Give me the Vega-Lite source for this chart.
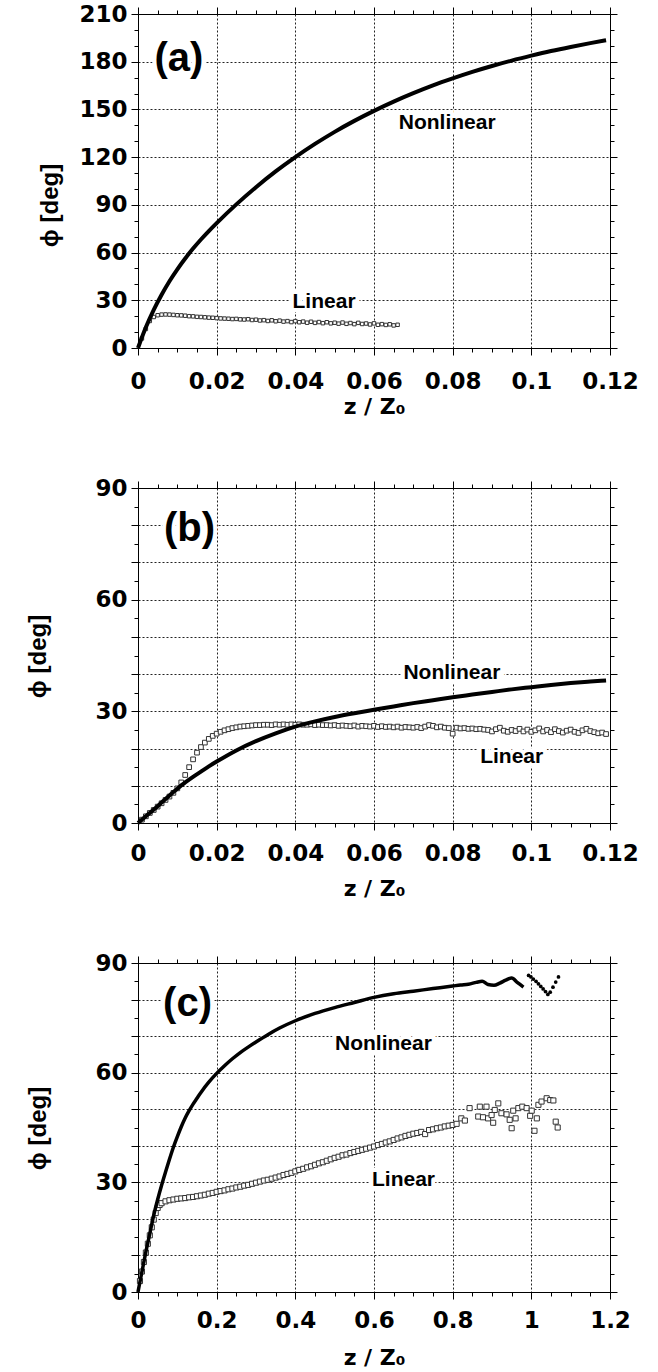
{
"$schema":"https://vega.github.io/schema/vega-lite/v6.json",
"padding":{"left":26,"top":3,"right":5,"bottom":5},
"spacing":140,
"bounds":"flush",
"config":{"font":"Liberation Sans","view":{"stroke":null},
 "axis":{"domainColor":"#000","domainWidth":1,"tickColor":"#000","tickWidth":1,"labelFont":"DejaVu Sans","labelFontSize":23,"labelFontWeight":"bold","labelColor":"#000","labelFlush":false,"labelOverlap":false,"titleFont":"Liberation Sans","titleFontSize":24,"titleFontWeight":"bold","titleColor":"#000","gridColor":"#222","gridDash":[2,2],"gridWidth":1}},
"datasets":{
"aN":[{"z":0,"phi":0},{"z":0.002,"phi":13},{"z":0.004,"phi":24},{"z":0.006,"phi":33.5},{"z":0.008,"phi":42},{"z":0.01,"phi":49.5},{"z":0.012,"phi":56.3},{"z":0.014,"phi":62.5},{"z":0.016,"phi":68.2},{"z":0.018,"phi":73.5},{"z":0.02,"phi":78.5},{"z":0.025,"phi":90.3},{"z":0.03,"phi":101.1},{"z":0.035,"phi":111},{"z":0.04,"phi":120},{"z":0.045,"phi":128.3},{"z":0.05,"phi":135.9},{"z":0.055,"phi":142.8},{"z":0.06,"phi":149.1},{"z":0.065,"phi":154.9},{"z":0.07,"phi":160.2},{"z":0.075,"phi":165.1},{"z":0.08,"phi":169.5},{"z":0.085,"phi":173.6},{"z":0.09,"phi":177.3},{"z":0.095,"phi":180.7},{"z":0.1,"phi":183.8},{"z":0.105,"phi":186.7},{"z":0.11,"phi":189.3},{"z":0.115,"phi":191.7},{"z":0.119,"phi":193.5}],
"aL":[{"z":0.001,"phi":6},{"z":0.002,"phi":12},{"z":0.003,"phi":17},{"z":0.004,"phi":19.5},{"z":0.005,"phi":20.6},{"z":0.006,"phi":21},{"z":0.007,"phi":21.1},{"z":0.008,"phi":21},{"z":0.009,"phi":20.8},{"z":0.01,"phi":20.6},{"z":0.011,"phi":20.5},{"z":0.012,"phi":20.3},{"z":0.013,"phi":20},{"z":0.014,"phi":19.9},{"z":0.015,"phi":19.6},{"z":0.016,"phi":19.5},{"z":0.017,"phi":19.3},{"z":0.018,"phi":19.1},{"z":0.019,"phi":19},{"z":0.02,"phi":18.8},{"z":0.021,"phi":18.6},{"z":0.022,"phi":18.5},{"z":0.023,"phi":18.4},{"z":0.024,"phi":18.2},{"z":0.025,"phi":18.3},{"z":0.026,"phi":18},{"z":0.027,"phi":17.9},{"z":0.028,"phi":18.1},{"z":0.029,"phi":17.6},{"z":0.03,"phi":17.8},{"z":0.031,"phi":17.3},{"z":0.032,"phi":17.5},{"z":0.033,"phi":17},{"z":0.034,"phi":17.4},{"z":0.035,"phi":16.8},{"z":0.036,"phi":17.2},{"z":0.037,"phi":16.6},{"z":0.038,"phi":16.9},{"z":0.039,"phi":16.3},{"z":0.04,"phi":16.9},{"z":0.041,"phi":16.2},{"z":0.042,"phi":16.6},{"z":0.043,"phi":15.9},{"z":0.044,"phi":16.5},{"z":0.045,"phi":15.8},{"z":0.046,"phi":16.3},{"z":0.047,"phi":15.6},{"z":0.048,"phi":16.2},{"z":0.049,"phi":15.5},{"z":0.05,"phi":15.9},{"z":0.051,"phi":15.3},{"z":0.052,"phi":16},{"z":0.053,"phi":15.2},{"z":0.054,"phi":15.7},{"z":0.055,"phi":15},{"z":0.056,"phi":15.8},{"z":0.057,"phi":15.1},{"z":0.058,"phi":15.4},{"z":0.059,"phi":14.8},{"z":0.06,"phi":15.5},{"z":0.061,"phi":14.6},{"z":0.062,"phi":15},{"z":0.063,"phi":14.5},{"z":0.064,"phi":14.9},{"z":0.065,"phi":14.2},{"z":0.066,"phi":14.6}],
"aT":[{"z":0.0104,"phi":181.7,"t":"(a)"},{"z":0.0786,"phi":141.5,"t":"Nonlinear"},{"z":0.0473,"phi":29.1,"t":"Linear"}],
"bN":[{"z":0,"phi":0},{"z":0.002,"phi":1.8},{"z":0.004,"phi":3.6},{"z":0.006,"phi":5.5},{"z":0.008,"phi":7.4},{"z":0.01,"phi":9.2},{"z":0.012,"phi":10.9},{"z":0.014,"phi":12.4},{"z":0.016,"phi":13.8},{"z":0.018,"phi":15.2},{"z":0.02,"phi":16.5},{"z":0.025,"phi":19.5},{"z":0.03,"phi":22},{"z":0.035,"phi":24.1},{"z":0.04,"phi":25.9},{"z":0.045,"phi":27.3},{"z":0.05,"phi":28.5},{"z":0.055,"phi":29.5},{"z":0.06,"phi":30.4},{"z":0.065,"phi":31.3},{"z":0.07,"phi":32.2},{"z":0.075,"phi":33},{"z":0.08,"phi":33.8},{"z":0.085,"phi":34.5},{"z":0.09,"phi":35.2},{"z":0.095,"phi":35.9},{"z":0.1,"phi":36.5},{"z":0.105,"phi":37.1},{"z":0.11,"phi":37.6},{"z":0.115,"phi":38},{"z":0.119,"phi":38.3}],
"bL":[{"z":0.001,"phi":0.9},{"z":0.002,"phi":1.8},{"z":0.003,"phi":2.7},{"z":0.004,"phi":3.5},{"z":0.005,"phi":4.4},{"z":0.006,"phi":5.3},{"z":0.007,"phi":6.2},{"z":0.008,"phi":7.1},{"z":0.009,"phi":8.1},{"z":0.01,"phi":9.3},{"z":0.011,"phi":10.9},{"z":0.012,"phi":12.9},{"z":0.013,"phi":15},{"z":0.014,"phi":17.1},{"z":0.015,"phi":18.9},{"z":0.016,"phi":20.4},{"z":0.017,"phi":21.6},{"z":0.018,"phi":22.6},{"z":0.019,"phi":23.4},{"z":0.02,"phi":24},{"z":0.021,"phi":24.5},{"z":0.022,"phi":24.9},{"z":0.023,"phi":25.2},{"z":0.024,"phi":25.5},{"z":0.025,"phi":25.7},{"z":0.026,"phi":25.9},{"z":0.027,"phi":26},{"z":0.028,"phi":26.1},{"z":0.029,"phi":26.2},{"z":0.03,"phi":26.3},{"z":0.031,"phi":26.3},{"z":0.032,"phi":26.4},{"z":0.033,"phi":26.4},{"z":0.034,"phi":26.3},{"z":0.035,"phi":26.5},{"z":0.036,"phi":26.4},{"z":0.037,"phi":26.5},{"z":0.038,"phi":26.4},{"z":0.039,"phi":26.5},{"z":0.04,"phi":26.4},{"z":0.041,"phi":26.5},{"z":0.042,"phi":26.4},{"z":0.043,"phi":26.4},{"z":0.044,"phi":26.5},{"z":0.045,"phi":26.3},{"z":0.046,"phi":26.4},{"z":0.047,"phi":26.3},{"z":0.048,"phi":26.3},{"z":0.049,"phi":26.2},{"z":0.05,"phi":26.3},{"z":0.051,"phi":26.1},{"z":0.052,"phi":26.2},{"z":0.053,"phi":26.1},{"z":0.054,"phi":26},{"z":0.055,"phi":26.2},{"z":0.056,"phi":25.9},{"z":0.057,"phi":26.1},{"z":0.058,"phi":26},{"z":0.059,"phi":25.9},{"z":0.06,"phi":26.1},{"z":0.061,"phi":25.8},{"z":0.062,"phi":26},{"z":0.063,"phi":25.8},{"z":0.064,"phi":25.9},{"z":0.065,"phi":25.7},{"z":0.066,"phi":25.9},{"z":0.067,"phi":25.6},{"z":0.068,"phi":25.8},{"z":0.069,"phi":25.7},{"z":0.07,"phi":25.6},{"z":0.071,"phi":25.8},{"z":0.072,"phi":25.5},{"z":0.073,"phi":25.9},{"z":0.074,"phi":26.3},{"z":0.075,"phi":26.1},{"z":0.076,"phi":25.7},{"z":0.077,"phi":25.9},{"z":0.078,"phi":25.6},{"z":0.079,"phi":25.5},{"z":0.08,"phi":24},{"z":0.081,"phi":25.6},{"z":0.082,"phi":25.4},{"z":0.083,"phi":25.5},{"z":0.084,"phi":25.3},{"z":0.085,"phi":25.4},{"z":0.086,"phi":25.2},{"z":0.087,"phi":25.3},{"z":0.088,"phi":25.1},{"z":0.089,"phi":25},{"z":0.09,"phi":24.6},{"z":0.091,"phi":25.2},{"z":0.092,"phi":25.6},{"z":0.093,"phi":24.8},{"z":0.094,"phi":24.5},{"z":0.095,"phi":25},{"z":0.096,"phi":24.7},{"z":0.097,"phi":25.3},{"z":0.098,"phi":24.6},{"z":0.099,"phi":25.1},{"z":0.1,"phi":24.5},{"z":0.101,"phi":24.9},{"z":0.102,"phi":25.4},{"z":0.103,"phi":24.6},{"z":0.104,"phi":25},{"z":0.105,"phi":24.4},{"z":0.106,"phi":25.2},{"z":0.107,"phi":24.7},{"z":0.108,"phi":24.3},{"z":0.109,"phi":24.8},{"z":0.11,"phi":25.1},{"z":0.111,"phi":24.5},{"z":0.112,"phi":24.2},{"z":0.113,"phi":24.9},{"z":0.114,"phi":25.3},{"z":0.115,"phi":24.7},{"z":0.116,"phi":24.4},{"z":0.117,"phi":24.1},{"z":0.118,"phi":24.3},{"z":0.119,"phi":23.9}],
"bT":[{"z":0.0131,"phi":79,"t":"(b)"},{"z":0.0798,"phi":40.4,"t":"Nonlinear"},{"z":0.095,"phi":17.6,"t":"Linear"}],
"cN":[{"z":0,"phi":0},{"z":0.005,"phi":2.8},{"z":0.01,"phi":5.5},{"z":0.02,"phi":11},{"z":0.03,"phi":16},{"z":0.04,"phi":21},{"z":0.05,"phi":25.3},{"z":0.06,"phi":29.2},{"z":0.07,"phi":32.8},{"z":0.08,"phi":36.3},{"z":0.09,"phi":39.6},{"z":0.1,"phi":42.5},{"z":0.11,"phi":45.2},{"z":0.12,"phi":47.6},{"z":0.13,"phi":49.6},{"z":0.14,"phi":51.4},{"z":0.15,"phi":53},{"z":0.16,"phi":54.6},{"z":0.18,"phi":57.4},{"z":0.2,"phi":59.8},{"z":0.22,"phi":61.9},{"z":0.24,"phi":63.8},{"z":0.26,"phi":65.5},{"z":0.28,"phi":67},{"z":0.3,"phi":68.4},{"z":0.33,"phi":70.4},{"z":0.36,"phi":72.2},{"z":0.4,"phi":74.2},{"z":0.45,"phi":76.2},{"z":0.5,"phi":77.8},{"z":0.55,"phi":79.2},{"z":0.6,"phi":80.6},{"z":0.65,"phi":81.6},{"z":0.7,"phi":82.3},{"z":0.75,"phi":83},{"z":0.8,"phi":83.7},{"z":0.82,"phi":84},{"z":0.84,"phi":84.2},{"z":0.86,"phi":84.7},{"z":0.875,"phi":85},{"z":0.89,"phi":84.1},{"z":0.905,"phi":83.9},{"z":0.92,"phi":84.5},{"z":0.935,"phi":85.3},{"z":0.95,"phi":85.9},{"z":0.965,"phi":84.6},{"z":0.98,"phi":83.4}],
"cD":[{"z":0.993,"phi":86.6},{"z":0.999,"phi":86.2},{"z":1.005,"phi":85.6},{"z":1.012,"phi":85},{"z":1.018,"phi":84.3},{"z":1.024,"phi":83.6},{"z":1.03,"phi":82.9},{"z":1.036,"phi":82.2},{"z":1.042,"phi":81.4},{"z":1.048,"phi":82},{"z":1.055,"phi":83.4},{"z":1.062,"phi":84.8},{"z":1.069,"phi":86.2}],
"cL":[{"z":0.005,"phi":3},{"z":0.01,"phi":5.6},{"z":0.015,"phi":8.2},{"z":0.02,"phi":10.8},{"z":0.025,"phi":13.2},{"z":0.03,"phi":15.5},{"z":0.035,"phi":17.7},{"z":0.04,"phi":19.8},{"z":0.045,"phi":21.6},{"z":0.05,"phi":23},{"z":0.055,"phi":23.8},{"z":0.06,"phi":24.3},{"z":0.07,"phi":24.8},{"z":0.08,"phi":25.1},{"z":0.09,"phi":25.3},{"z":0.1,"phi":25.5},{"z":0.11,"phi":25.6},{"z":0.12,"phi":25.7},{"z":0.13,"phi":25.9},{"z":0.14,"phi":26},{"z":0.15,"phi":26.2},{"z":0.16,"phi":26.4},{"z":0.17,"phi":26.6},{"z":0.18,"phi":26.9},{"z":0.19,"phi":27.1},{"z":0.2,"phi":27.4},{"z":0.21,"phi":27.6},{"z":0.22,"phi":27.8},{"z":0.23,"phi":28.1},{"z":0.24,"phi":28.3},{"z":0.25,"phi":28.6},{"z":0.26,"phi":28.8},{"z":0.27,"phi":29.1},{"z":0.28,"phi":29.3},{"z":0.29,"phi":29.6},{"z":0.3,"phi":29.9},{"z":0.31,"phi":30.2},{"z":0.32,"phi":30.5},{"z":0.33,"phi":30.7},{"z":0.34,"phi":31},{"z":0.35,"phi":31.3},{"z":0.36,"phi":31.6},{"z":0.37,"phi":32},{"z":0.38,"phi":32.3},{"z":0.39,"phi":32.6},{"z":0.4,"phi":33},{"z":0.41,"phi":33.4},{"z":0.42,"phi":33.7},{"z":0.43,"phi":34.1},{"z":0.44,"phi":34.4},{"z":0.45,"phi":34.8},{"z":0.46,"phi":35.2},{"z":0.47,"phi":35.5},{"z":0.48,"phi":35.9},{"z":0.49,"phi":36.3},{"z":0.5,"phi":36.7},{"z":0.51,"phi":37},{"z":0.52,"phi":37.4},{"z":0.53,"phi":37.6},{"z":0.54,"phi":38},{"z":0.55,"phi":38.3},{"z":0.56,"phi":38.6},{"z":0.57,"phi":38.9},{"z":0.58,"phi":39.2},{"z":0.59,"phi":39.5},{"z":0.6,"phi":39.8},{"z":0.61,"phi":40.2},{"z":0.62,"phi":40.5},{"z":0.63,"phi":40.9},{"z":0.64,"phi":41.2},{"z":0.65,"phi":41.6},{"z":0.66,"phi":42},{"z":0.67,"phi":42.3},{"z":0.68,"phi":42.7},{"z":0.69,"phi":43},{"z":0.7,"phi":43.3},{"z":0.71,"phi":43.5},{"z":0.72,"phi":43.8},{"z":0.73,"phi":43.2},{"z":0.74,"phi":44.3},{"z":0.75,"phi":44.5},{"z":0.76,"phi":44.8},{"z":0.77,"phi":45},{"z":0.78,"phi":45.3},{"z":0.79,"phi":45.5},{"z":0.8,"phi":45.7},{"z":0.81,"phi":46},{"z":0.822,"phi":47.5},{"z":0.831,"phi":46.9},{"z":0.843,"phi":50.3},{"z":0.865,"phi":48},{"z":0.869,"phi":50.7},{"z":0.877,"phi":47.8},{"z":0.886,"phi":50.7},{"z":0.89,"phi":47.5},{"z":0.899,"phi":48.4},{"z":0.903,"phi":46.3},{"z":0.907,"phi":49.8},{"z":0.916,"phi":51.6},{"z":0.924,"phi":48.9},{"z":0.937,"phi":48.6},{"z":0.945,"phi":47.1},{"z":0.95,"phi":44.8},{"z":0.954,"phi":49.6},{"z":0.96,"phi":47.5},{"z":0.967,"phi":50.3},{"z":0.977,"phi":50.7},{"z":0.988,"phi":50.3},{"z":0.997,"phi":48.2},{"z":1.001,"phi":49.6},{"z":1.008,"phi":44.1},{"z":1.014,"phi":47.5},{"z":1.018,"phi":51.2},{"z":1.026,"phi":52.1},{"z":1.039,"phi":53},{"z":1.048,"phi":52.5},{"z":1.056,"phi":52.4},{"z":1.062,"phi":46.6},{"z":1.067,"phi":45}],
"cT":[{"z":0.126,"phi":78.8,"t":"(c)"},{"z":0.624,"phi":67.9,"t":"Nonlinear"},{"z":0.675,"phi":30.6,"t":"Linear"}]
},
"vconcat":[
{"width":472,"height":334,
 "resolve":{"axis":{"x":"independent","y":"independent"}},
 "layer":[
  {"data":{"name":"aL"},"mark":{"type":"point","shape":"square","fill":"white","stroke":"#333","strokeWidth":1,"size":12,"opacity":1},
   "encoding":{
    "x":{"field":"z","type":"quantitative","scale":{"domain":[0,0.12],"nice":false},
      "axis":{"orient":"bottom","values":[0,0.005,0.01,0.015,0.02,0.025,0.03,0.035,0.04,0.045,0.05,0.055,0.06,0.065,0.07,0.075,0.08,0.085,0.09,0.095,0.1,0.105,0.11,0.115,0.12],
       "labelExpr":"round(datum.value*1000)%20==0 ? format(datum.value,'~g') : ''",
       "tickSize":{"condition":{"test":"round(datum.value*1000)%20==0","value":7},"value":4},
       "gridOpacity":{"condition":{"test":"round(datum.value*1000)%20==0","value":1},"value":0},
       "grid":true,"labelPadding":15,"title":"z / Z₀","titleFont":"DejaVu Sans","titleFontSize":22,"titleY":65,"titleBaseline":"alphabetic"}},
    "y":{"field":"phi","type":"quantitative","scale":{"domain":[0,210],"nice":false},
      "axis":{"orient":"left","values":[0,10,20,30,40,50,60,70,80,90,100,110,120,130,140,150,160,170,180,190,200,210],
       "labelExpr":"datum.value%30==0 ? format(datum.value,'d') : ''",
       "tickSize":{"condition":{"test":"datum.value%30==0","value":7},"value":4},
       "gridOpacity":{"condition":{"test":"datum.value%30==0","value":1},"value":0},
       "grid":true,"labelPadding":4,"title":"ϕ [deg]","titleX":-88,"titleY":191,"titleAlign":"center","titleBaseline":"middle","titleAngle":270}}}},
  {"data":{"name":"aN"},"mark":{"type":"line","color":"black","strokeWidth":4,"interpolate":"monotone"},
   "encoding":{
    "x":{"field":"z","type":"quantitative","axis":{"orient":"top","values":[0,0.005,0.01,0.015,0.02,0.025,0.03,0.035,0.04,0.045,0.05,0.055,0.06,0.065,0.07,0.075,0.08,0.085,0.09,0.095,0.1,0.105,0.11,0.115,0.12],"labels":false,"grid":false,"title":null,
       "tickSize":{"condition":{"test":"round(datum.value*1000)%20==0","value":7},"value":4}}},
    "y":{"field":"phi","type":"quantitative","axis":{"orient":"right","values":[0,10,20,30,40,50,60,70,80,90,100,110,120,130,140,150,160,170,180,190,200,210],"labels":false,"grid":false,"title":null,
       "tickSize":{"condition":{"test":"datum.value%30==0","value":7},"value":4}}}}},
  {"data":{"name":"aT"},"mark":{"type":"text","font":"Liberation Sans","fontWeight":"bold","align":"center","baseline":"middle","stroke":"white","strokeWidth":8,"fill":"white"},
   "encoding":{"x":{"field":"z","type":"quantitative","axis":null},"y":{"field":"phi","type":"quantitative","axis":null},"text":{"field":"t"},
    "size":{"condition":{"test":"indexof(datum.t,'(')==0","value":40},"value":21}}},
  {"data":{"name":"aT"},"mark":{"type":"text","font":"Liberation Sans","fontWeight":"bold","align":"center","baseline":"middle","fill":"black"},
   "encoding":{"x":{"field":"z","type":"quantitative","axis":null},"y":{"field":"phi","type":"quantitative","axis":null},"text":{"field":"t"},
    "size":{"condition":{"test":"indexof(datum.t,'(')==0","value":40},"value":21}}}
 ]},
{"width":472,"height":335,
 "resolve":{"axis":{"x":"independent","y":"independent"}},
 "layer":[
  {"data":{"name":"bL"},"mark":{"type":"point","shape":"square","fill":"white","stroke":"#333","strokeWidth":1,"size":22,"opacity":1},
   "encoding":{
    "x":{"field":"z","type":"quantitative","scale":{"domain":[0,0.12],"nice":false},
      "axis":{"orient":"bottom","values":[0,0.005,0.01,0.015,0.02,0.025,0.03,0.035,0.04,0.045,0.05,0.055,0.06,0.065,0.07,0.075,0.08,0.085,0.09,0.095,0.1,0.105,0.11,0.115,0.12],
       "labelExpr":"round(datum.value*1000)%20==0 ? format(datum.value,'~g') : ''",
       "tickSize":{"condition":{"test":"round(datum.value*1000)%20==0","value":7},"value":4},
       "gridOpacity":{"condition":{"test":"round(datum.value*1000)%20==0","value":1},"value":0},
       "grid":true,"labelPadding":12,"title":"z / Z₀","titleFont":"DejaVu Sans","titleFontSize":22,"titleY":72,"titleBaseline":"alphabetic"}},
    "y":{"field":"phi","type":"quantitative","scale":{"domain":[0,90],"nice":false},
      "axis":{"orient":"left","values":[0,5,10,15,20,25,30,35,40,45,50,55,60,65,70,75,80,85,90],
       "labelExpr":"datum.value%30==0 ? format(datum.value,'d') : ''",
       "tickSize":{"condition":{"test":"datum.value%10==0","value":7},"value":4},
       "gridOpacity":{"condition":{"test":"datum.value%10==0","value":1},"value":0},
       "grid":true,"labelPadding":4,"title":"ϕ [deg]","titleX":-100,"titleY":168,"titleAlign":"center","titleBaseline":"middle","titleAngle":270}}}},
  {"data":{"name":"bN"},"mark":{"type":"line","color":"black","strokeWidth":4,"interpolate":"monotone"},
   "encoding":{
    "x":{"field":"z","type":"quantitative","axis":{"orient":"top","values":[0,0.005,0.01,0.015,0.02,0.025,0.03,0.035,0.04,0.045,0.05,0.055,0.06,0.065,0.07,0.075,0.08,0.085,0.09,0.095,0.1,0.105,0.11,0.115,0.12],"labels":false,"grid":false,"title":null,
       "tickSize":{"condition":{"test":"round(datum.value*1000)%20==0","value":7},"value":4}}},
    "y":{"field":"phi","type":"quantitative","axis":{"orient":"right","values":[0,5,10,15,20,25,30,35,40,45,50,55,60,65,70,75,80,85,90],"labels":false,"grid":false,"title":null,
       "tickSize":{"condition":{"test":"datum.value%10==0","value":7},"value":4}}}}},
  {"data":{"name":"bT"},"mark":{"type":"text","font":"Liberation Sans","fontWeight":"bold","align":"center","baseline":"middle","stroke":"white","strokeWidth":8,"fill":"white"},
   "encoding":{"x":{"field":"z","type":"quantitative","axis":null},"y":{"field":"phi","type":"quantitative","axis":null},"text":{"field":"t"},
    "size":{"condition":{"test":"indexof(datum.t,'(')==0","value":40},"value":21}}},
  {"data":{"name":"bT"},"mark":{"type":"text","font":"Liberation Sans","fontWeight":"bold","align":"center","baseline":"middle","fill":"black"},
   "encoding":{"x":{"field":"z","type":"quantitative","axis":null},"y":{"field":"phi","type":"quantitative","axis":null},"text":{"field":"t"},
    "size":{"condition":{"test":"indexof(datum.t,'(')==0","value":40},"value":21}}}
 ]},
{"width":472,"height":329,
 "resolve":{"axis":{"x":"independent","y":"independent"}},
 "layer":[
  {"data":{"name":"cL"},"mark":{"type":"point","shape":"square","fill":"white","stroke":"#333","strokeWidth":1,"size":26,"opacity":1},
   "encoding":{
    "x":{"field":"z","type":"quantitative","scale":{"domain":[0,1.2],"nice":false},
      "axis":{"orient":"bottom","values":[0,0.05,0.1,0.15,0.2,0.25,0.3,0.35,0.4,0.45,0.5,0.55,0.6,0.65,0.7,0.75,0.8,0.85,0.9,0.95,1,1.05,1.1,1.15,1.2],
       "labelExpr":"round(datum.value*100)%20==0 ? format(datum.value,'~g') : ''",
       "tickSize":{"condition":{"test":"round(datum.value*100)%20==0","value":7},"value":4},
       "gridOpacity":{"condition":{"test":"round(datum.value*100)%20==0","value":1},"value":0},
       "grid":true,"labelPadding":10,"title":"z / Z₀","titleFont":"DejaVu Sans","titleFontSize":22,"titleY":72,"titleBaseline":"alphabetic"}},
    "y":{"field":"phi","type":"quantitative","scale":{"domain":[0,90],"nice":false},
      "axis":{"orient":"left","values":[0,5,10,15,20,25,30,35,40,45,50,55,60,65,70,75,80,85,90],
       "labelExpr":"datum.value%30==0 ? format(datum.value,'d') : ''",
       "tickSize":{"condition":{"test":"datum.value%10==0","value":7},"value":4},
       "gridOpacity":{"condition":{"test":"datum.value%10==0","value":1},"value":0},
       "grid":true,"labelPadding":4,"title":"ϕ [deg]","titleX":-100,"titleY":165,"titleAlign":"center","titleBaseline":"middle","titleAngle":270}}}},
  {"data":{"name":"cN"},"mark":{"type":"line","color":"black","strokeWidth":3.5,"interpolate":"monotone"},
   "encoding":{
    "x":{"field":"z","type":"quantitative","axis":{"orient":"top","values":[0,0.05,0.1,0.15,0.2,0.25,0.3,0.35,0.4,0.45,0.5,0.55,0.6,0.65,0.7,0.75,0.8,0.85,0.9,0.95,1,1.05,1.1,1.15,1.2],"labels":false,"grid":false,"title":null,
       "tickSize":{"condition":{"test":"round(datum.value*100)%20==0","value":7},"value":4}}},
    "y":{"field":"phi","type":"quantitative","axis":{"orient":"right","values":[0,5,10,15,20,25,30,35,40,45,50,55,60,65,70,75,80,85,90],"labels":false,"grid":false,"title":null,
       "tickSize":{"condition":{"test":"datum.value%10==0","value":7},"value":4}}}}},
  {"data":{"name":"cD"},"mark":{"type":"point","shape":"circle","filled":true,"color":"black","size":14,"opacity":1},
   "encoding":{"x":{"field":"z","type":"quantitative","axis":null},"y":{"field":"phi","type":"quantitative","axis":null}}},
  {"data":{"name":"cT"},"mark":{"type":"text","font":"Liberation Sans","fontWeight":"bold","align":"center","baseline":"middle","stroke":"white","strokeWidth":8,"fill":"white"},
   "encoding":{"x":{"field":"z","type":"quantitative","axis":null},"y":{"field":"phi","type":"quantitative","axis":null},"text":{"field":"t"},
    "size":{"condition":{"test":"indexof(datum.t,'(')==0","value":40},"value":21}}},
  {"data":{"name":"cT"},"mark":{"type":"text","font":"Liberation Sans","fontWeight":"bold","align":"center","baseline":"middle","fill":"black"},
   "encoding":{"x":{"field":"z","type":"quantitative","axis":null},"y":{"field":"phi","type":"quantitative","axis":null},"text":{"field":"t"},
    "size":{"condition":{"test":"indexof(datum.t,'(')==0","value":40},"value":21}}}
 ]}
]
}
